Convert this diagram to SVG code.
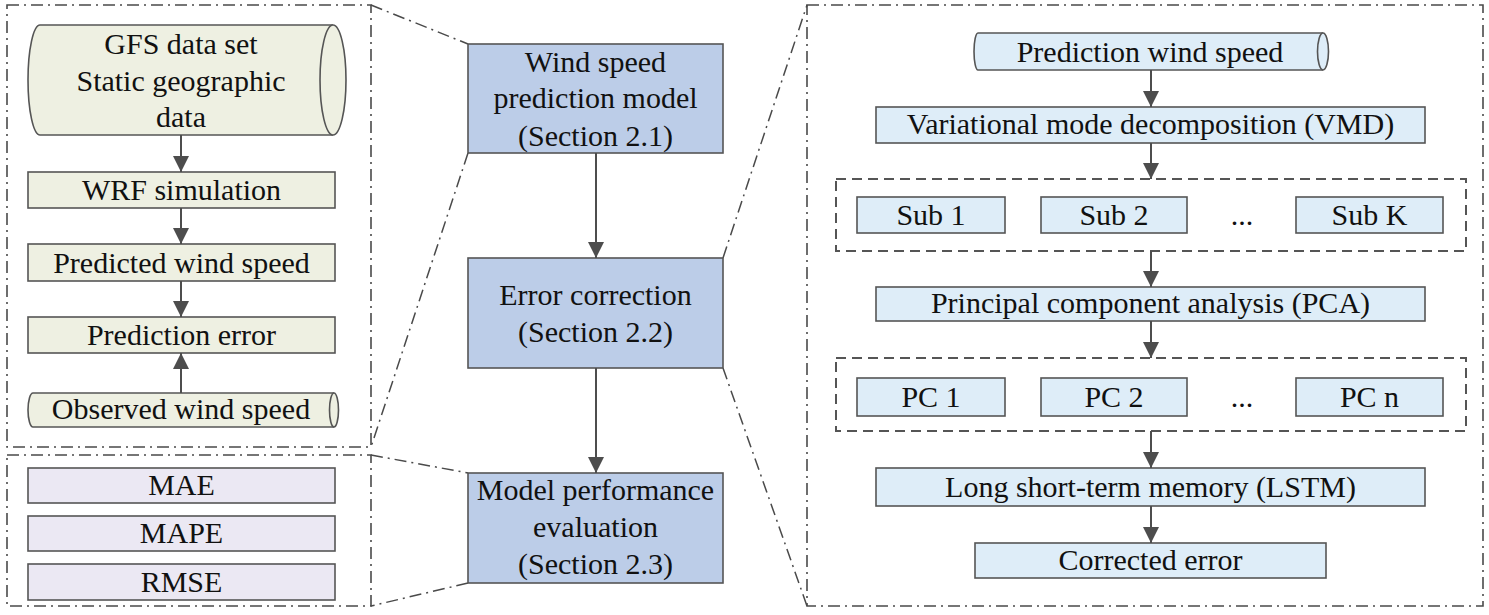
<svg xmlns="http://www.w3.org/2000/svg" width="1489" height="615" viewBox="0 0 1489 615">
<style>
text{font-size:30px;fill:#111;text-anchor:middle}
.panel{fill:none;stroke:#4a4a4a;stroke-width:1.6;stroke-dasharray:12 5 2 5}
.zoom{fill:none;stroke:#4a4a4a;stroke-width:1.5;stroke-dasharray:12 5 2 5}
.grp{fill:none;stroke:#555;stroke-width:2;stroke-dasharray:10 6}
.g{fill:#eef0e2;stroke:#555;stroke-width:1.6}
.l{fill:#ebe8f3;stroke:#555;stroke-width:1.6}
.c{fill:#bccde8;stroke:#555;stroke-width:1.6}
.b{fill:#deedf8;stroke:#555;stroke-width:1.6}
.arr{stroke:#4d4d4d;stroke-width:2;fill:none;marker-end:url(#ah)}
</style>
<defs>
<marker id="ah" markerUnits="userSpaceOnUse" markerWidth="16" markerHeight="16" refX="16" refY="8" orient="auto">
<path d="M0,0 L16,8 L0,16 Z" fill="#4d4d4d"/>
</marker>
</defs>

<g id="panels">
<rect class="panel" x="7" y="5" width="364" height="442"/>
<rect class="panel" x="7" y="455" width="364" height="151"/>
<rect class="panel" x="807" y="5" width="676" height="601"/>
<rect class="grp" x="836" y="179" width="630" height="72"/>
<rect class="grp" x="836" y="358" width="630" height="73"/>
</g>

<g id="zoom-lines">
<line class="zoom" x1="371" y1="5" x2="468" y2="44"/>
<line class="zoom" x1="468" y1="153" x2="371" y2="447"/>
<line class="zoom" x1="371" y1="455" x2="468" y2="473"/>
<line class="zoom" x1="468" y1="583" x2="371" y2="606"/>
<line class="zoom" x1="723" y1="258" x2="807" y2="5"/>
<line class="zoom" x1="723" y1="368" x2="807" y2="606"/>
</g>

<g font-family="Liberation Serif, DejaVu Serif, serif">
<g id="gfs">
<path class="g" d="M40,25 L333,25 A13,55 0 0 1 333,135 L40,135 A12,55 0 0 1 40,25 Z"/>
<path class="g" fill="none" d="M333,25 A13,55 0 0 0 333,135"/>
<text x="181" y="54">GFS data set</text>
<text x="181" y="91">Static geographic</text>
<text x="181" y="127">data</text>
</g>
<g id="wrf"><rect class="g" x="28" y="172" width="307" height="36"/><text x="181.5" y="200">WRF simulation</text></g>
<g id="predicted"><rect class="g" x="28" y="244" width="307" height="37"/><text x="181.5" y="273">Predicted wind speed</text></g>
<g id="prederr"><rect class="g" x="28" y="317" width="307" height="36"/><text x="181.5" y="345">Prediction error</text></g>
<g id="observed">
<path class="g" d="M33,393 L334,393 A4.5,17 0 0 1 334,427 L33,427 A5,17 0 0 1 33,393 Z"/>
<path class="g" fill="none" d="M334,393 A4.5,17 0 0 0 334,427"/>
<text x="181" y="419">Observed wind speed</text>
</g>

<g id="mae"><rect class="l" x="28" y="468" width="307" height="35"/><text x="181.5" y="495">MAE</text></g>
<g id="mape"><rect class="l" x="28" y="516" width="307" height="35"/><text x="181.5" y="543">MAPE</text></g>
<g id="rmse"><rect class="l" x="28" y="564" width="307" height="36"/><text x="181.5" y="592">RMSE</text></g>

<g id="wsmodel"><rect class="c" x="468" y="44" width="255" height="109"/>
<text x="595.5" y="72">Wind speed</text><text x="595.5" y="108">prediction model</text><text x="595.5" y="146">(Section 2.1)</text></g>
<g id="errcorr"><rect class="c" x="468" y="258" width="255" height="110"/>
<text x="595.5" y="305">Error correction</text><text x="595.5" y="342">(Section 2.2)</text></g>
<g id="perf"><rect class="c" x="468" y="473" width="255" height="110"/>
<text x="595.5" y="500">Model performance</text><text x="595.5" y="537">evaluation</text><text x="595.5" y="574">(Section 2.3)</text></g>

<g id="predws">
<path class="b" d="M978,33 L1323,33 A5.5,18.5 0 0 1 1323,70 L978,70 A4,18.5 0 0 1 978,33 Z"/>
<path class="b" fill="none" d="M1323,33 A5.5,18.5 0 0 0 1323,70"/>
<text x="1150" y="62">Prediction wind speed</text>
</g>
<g id="vmd"><rect class="b" x="876" y="107" width="549" height="36"/><text x="1150.5" y="134">Variational mode decomposition (VMD)</text></g>
<g id="sub1"><rect class="b" x="857" y="197" width="148" height="36"/><text x="931" y="225">Sub 1</text></g>
<g id="sub2"><rect class="b" x="1041" y="197" width="146" height="36"/><text x="1114" y="225">Sub 2</text></g>
<g id="dots1"><text x="1242" y="225">...</text></g>
<g id="subk"><rect class="b" x="1296" y="197" width="147" height="36"/><text x="1369.5" y="225">Sub K</text></g>
<g id="pca"><rect class="b" x="876" y="287" width="549" height="34"/><text x="1150.5" y="313">Principal component analysis (PCA)</text></g>
<g id="pc1"><rect class="b" x="857" y="378" width="148" height="38"/><text x="931" y="407">PC 1</text></g>
<g id="pc2"><rect class="b" x="1041" y="378" width="146" height="38"/><text x="1114" y="407">PC 2</text></g>
<g id="dots2"><text x="1242" y="407">...</text></g>
<g id="pcn"><rect class="b" x="1296" y="378" width="147" height="38"/><text x="1369.5" y="407">PC n</text></g>
<g id="lstm"><rect class="b" x="876" y="468" width="549" height="38"/><text x="1150.5" y="497">Long short-term memory (LSTM)</text></g>
<g id="corrected"><rect class="b" x="975" y="543" width="351" height="35"/><text x="1150.5" y="570">Corrected error</text></g>
</g>

<g id="connectors">
<line class="arr" x1="181" y1="135" x2="181" y2="172"/>
<line class="arr" x1="181" y1="208" x2="181" y2="244"/>
<line class="arr" x1="181" y1="281" x2="181" y2="317"/>
<line class="arr" x1="181" y1="393" x2="181" y2="353"/>
<line class="arr" x1="596" y1="153" x2="596" y2="258"/>
<line class="arr" x1="596" y1="368" x2="596" y2="473"/>
<line class="arr" x1="1151" y1="70" x2="1151" y2="107"/>
<line class="arr" x1="1151" y1="143" x2="1151" y2="179"/>
<line class="arr" x1="1151" y1="251" x2="1151" y2="287"/>
<line class="arr" x1="1151" y1="321" x2="1151" y2="358"/>
<line class="arr" x1="1151" y1="431" x2="1151" y2="468"/>
<line class="arr" x1="1151" y1="506" x2="1151" y2="543"/>
</g>
</svg>
